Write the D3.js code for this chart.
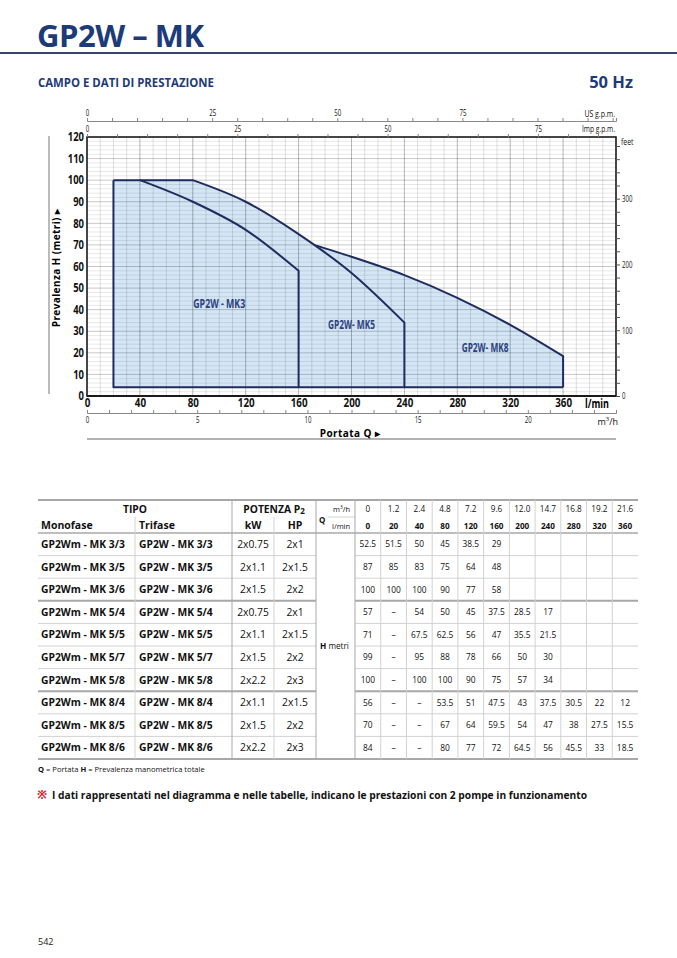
<!DOCTYPE html>
<html>
<head>
<meta charset="utf-8">
<script src="https://cdn.jsdelivr.net/npm/d3@7"></script>
<style>
  body { margin: 0; background: #fff; }
  text { font-family: "Open Sans", "Noto Sans", sans-serif; }
</style>
</head>
<body>
<div id="page"></div>
<script>
// ---- data -------------------------------------------------------------
// portata Q (colonne della tabella)
const flowLmin = [0, 20, 40, 80, 120, 160, 200, 240, 280, 320, 360];
const flowM3h = ["0", "1.2", "2.4", "4.8", "7.2", "9.6", "12.0", "14.7", "16.8", "19.2", "21.6"];

const monofase = ["GP2Wm - MK 3/3", "GP2Wm - MK 3/5", "GP2Wm - MK 3/6",
  "GP2Wm - MK 5/4", "GP2Wm - MK 5/5", "GP2Wm - MK 5/7", "GP2Wm - MK 5/8",
  "GP2Wm - MK 8/4", "GP2Wm - MK 8/5", "GP2Wm - MK 8/6"];
const trifase = ["GP2W - MK 3/3", "GP2W - MK 3/5", "GP2W - MK 3/6",
  "GP2W - MK 5/4", "GP2W - MK 5/5", "GP2W - MK 5/7", "GP2W - MK 5/8",
  "GP2W - MK 8/4", "GP2W - MK 8/5", "GP2W - MK 8/6"];
const powerKW = ["2x0.75", "2x1.1", "2x1.5", "2x0.75", "2x1.1", "2x1.5", "2x2.2", "2x1.1", "2x1.5", "2x2.2"];
const powerHP = ["2x1", "2x1.5", "2x2", "2x1", "2x1.5", "2x2", "2x3", "2x1.5", "2x2", "2x3"];

// prevalenza H in metri; null = "–", missing = empty cell
const headM = [
  [52.5, 51.5, 50, 45, 38.5, 29],
  [87, 85, 83, 75, 64, 48],
  [100, 100, 100, 90, 77, 58],
  [57, null, 54, 50, 45, 37.5, 28.5, 17],
  [71, null, 67.5, 62.5, 56, 47, 35.5, 21.5],
  [99, null, 95, 88, 78, 66, 50, 30],
  [100, null, 100, 100, 90, 75, 57, 34],
  [56, null, null, 53.5, 51, 47.5, 43, 37.5, 30.5, 22, 12],
  [70, null, null, 67, 64, 59.5, 54, 47, 38, 27.5, 15.5],
  [84, null, null, 80, 77, 72, 64.5, 56, 45.5, 33, 18.5]
];

// campi del diagramma: curva piu alta di ogni famiglia (riga della tabella)
const fieldNames = ["GP2W - MK3", "GP2W- MK5", "GP2W- MK8"];
const fieldRow = [2, 6, 9];
const fieldMinQ = 20;   // l/min, limite sinistro del campo
const fieldMinH = 4;    // m, limite inferiore del campo

const xTicks = [0, 40, 80, 120, 160, 200, 240, 280, 320, 360];
const yTicks = [0, 10, 20, 30, 40, 50, 60, 70, 80, 90, 100, 110, 120];
const gpmLabels = [0, 25, 50, 75];
const m3hLabels = [0, 5, 10, 15, 20];
const feetLabels = [0, 100, 200, 300];

// ---- layout -----------------------------------------------------------
const navy = "#1d3b78";
const lineNavy = "#1f2c5e";
const fillBlue = "#d4e6f5";

const svg = d3.select("#page").append("svg")
  .attr("width", 677).attr("height", 958);

// squeeze text to look like the condensed face of the original
function squeeze(sel, perChar) {
  sel.each(function () {
    const s = this.textContent;
    if (s.length) d3.select(this).attr("textLength", s.length * perChar)
      .attr("lengthAdjust", "spacingAndGlyphs");
  });
}

// page header
svg.append("text").attr("x", 37).attr("y", 47)
  .attr("font-size", 31).attr("font-weight", 700).attr("fill", navy)
  .attr("letter-spacing", -0.5)
  .text("GP2W – MK");
svg.append("line").attr("x1", 0).attr("x2", 677).attr("y1", 53).attr("y2", 53)
  .attr("stroke", "#34466f").attr("stroke-width", 2);
svg.append("text").attr("x", 38).attr("y", 87)
  .attr("font-size", 11.5).attr("font-weight", 700).attr("fill", navy)
  .attr("textLength", 176).attr("lengthAdjust", "spacingAndGlyphs")
  .text("CAMPO E DATI DI PRESTAZIONE");
svg.append("text").attr("x", 633).attr("y", 88).attr("text-anchor", "end")
  .attr("font-size", 16.5).attr("font-weight", 700).attr("fill", navy)
  .text("50 Hz");

// ---- chart ------------------------------------------------------------
const x = d3.scaleLinear().domain([0, 400]).range([87, 616]);
const y = d3.scaleLinear().domain([0, 120]).range([396, 137]);

function fieldPoints(i) {
  return flowLmin.map((q, j) => [q, headM[fieldRow[i]][j]])
    .filter(p => p[0] >= fieldMinQ && p[1] != null);
}
const curve = d3.line().x(d => x(d[0])).y(d => y(d[1])).curve(d3.curveMonotoneX);
// flat stretch at max head drawn straight, then the falling part as a curve
function topPath(pts) {
  let k = 0;
  while (k + 1 < pts.length && pts[k + 1][1] === pts[0][1]) k++;
  const last = pts[pts.length - 1];
  return `M${x(pts[0][0])},${y(pts[0][1])}` +
    curve(pts.slice(k)).replace(/^M/, "L") +
    `L${x(last[0])},${y(fieldMinH)}`;
}
function areaPath(pts) {
  return topPath(pts) + `L${x(pts[0][0])},${y(fieldMinH)}Z`;
}
const fields = fieldNames.map((n, i) => fieldPoints(i));

const defs = svg.append("defs");
const mask = defs.append("mask").attr("id", "outMK5")
  .attr("maskUnits", "userSpaceOnUse")
  .attr("x", 0).attr("y", 0).attr("width", 677).attr("height", 958);
mask.append("rect").attr("width", 677).attr("height", 958).attr("fill", "white");
mask.append("path").attr("d", areaPath(fields[1])).attr("fill", "black");

// fills
svg.append("g").selectAll("path").data(fields).join("path")
  .attr("d", d => areaPath(d)).attr("fill", fillBlue);

// grid
const grid = svg.append("g");
grid.selectAll(".vx").data(d3.range(10, 400, 10)).join("line")
  .attr("x1", d => x(d)).attr("x2", d => x(d)).attr("y1", y(0)).attr("y2", y(120))
  .attr("stroke", "#000").attr("stroke-opacity", d => d % 40 === 0 ? 0.28 : 0.12);
grid.selectAll(".hy").data(d3.range(2, 120, 2)).join("line")
  .attr("x1", x(0)).attr("x2", x(400)).attr("y1", d => y(d)).attr("y2", d => y(d))
  .attr("stroke", "#000").attr("stroke-opacity", d => d % 10 === 0 ? 0.22 : 0.09);

svg.append("rect").attr("x", x(0)).attr("y", y(120))
  .attr("width", x(400) - x(0)).attr("height", y(0) - y(120))
  .attr("fill", "none").attr("stroke", "#1a1a1a").attr("stroke-width", 1.6);
svg.append("line").attr("x1", x(0)).attr("x2", x(400)).attr("y1", y(0)).attr("y2", y(0))
  .attr("stroke", "#1a1a1a").attr("stroke-width", 2.2);

// curve strokes (MK8 hidden where it runs inside the MK5 field)
const strokes = svg.append("g").attr("fill", "none")
  .attr("stroke", lineNavy).attr("stroke-width", 2).attr("stroke-linejoin", "round");
strokes.append("path").attr("d", topPath(fields[2])).attr("mask", "url(#outMK5)");
strokes.append("path").attr("d", topPath(fields[1]));
strokes.append("path").attr("d", topPath(fields[0]));
// outer left edge and bottom
const lastQ = fields[2][fields[2].length - 1][0];
strokes.append("path").attr("d", d3.line()([
  [x(fieldMinQ), y(fields[0][0][1])], [x(fieldMinQ), y(fieldMinH)], [x(lastQ), y(fieldMinH)]
]));

// field labels (position in data units)
const labelAt = [[100, 41], [200, 31], [301, 20.5]];
svg.append("g").selectAll("text").data(fieldNames).join("text")
  .attr("x", (d, i) => x(labelAt[i][0])).attr("y", (d, i) => y(labelAt[i][1]))
  .attr("text-anchor", "middle").attr("font-size", 12).attr("font-weight", 700)
  .attr("fill", "#2b3f80").text(d => d)
  .call(s => squeeze(s, 5.2));

// axes
function styleAxis(g, size, weight, perChar) {
  g.selectAll("text").attr("font-size", size).attr("font-weight", weight).attr("fill", "#111")
    .call(s => squeeze(s, perChar));
}
svg.append("g").attr("transform", `translate(${x(0)},0)`)
  .call(d3.axisLeft(y).tickValues(yTicks).tickSize(0).tickPadding(3))
  .call(g => g.select(".domain").remove())
  .call(g => styleAxis(g, 11.5, 700, 5.4));
svg.append("g").attr("transform", `translate(0,${y(0)})`)
  .call(d3.axisBottom(x).tickValues(xTicks).tickSize(0).tickPadding(3))
  .call(g => g.select(".domain").remove())
  .call(g => styleAxis(g, 11.5, 700, 5.6));
svg.append("text").attr("x", 597).attr("y", 407.5)
  .attr("text-anchor", "middle").attr("font-size", 11.5).attr("font-weight", 700)
  .text("l/min").call(s => squeeze(s, 4.8));

// US g.p.m. and Imp g.p.m. on top
const usGpm = d3.scaleLinear().domain([0, 400 / 3.785]).range(x.range());
const impGpm = d3.scaleLinear().domain([0, 400 / 4.546]).range(x.range());
svg.append("g").attr("transform", "translate(0,121)")
  .call(d3.axisTop(usGpm).tickValues(d3.range(0, 106, 5)).tickSize(3).tickPadding(2)
    .tickFormat(d => gpmLabels.includes(d) ? d : ""))
  .call(g => g.select(".domain").attr("stroke", "#888"))
  .call(g => g.selectAll(".tick line").attr("stroke", "#888"))
  .call(g => styleAxis(g, 9, 400, 3.5));
svg.append("g").attr("transform", `translate(0,${y(120)})`)
  .call(d3.axisTop(impGpm).tickValues(d3.range(0, 88, 5)).tickSize(3).tickPadding(2)
    .tickFormat(d => gpmLabels.includes(d) ? d : ""))
  .call(g => g.select(".domain").remove())
  .call(g => g.selectAll(".tick line").attr("stroke", "#888"))
  .call(g => styleAxis(g, 9, 400, 3.5));
svg.append("text").attr("x", 615).attr("y", 117)
  .attr("text-anchor", "end").attr("font-size", 9).attr("fill", "#111").text("US g.p.m.")
  .call(s => squeeze(s, 3.4));
svg.append("text").attr("x", 615).attr("y", 132)
  .attr("text-anchor", "end").attr("font-size", 9).attr("fill", "#111").text("Imp g.p.m.")
  .call(s => squeeze(s, 3.3));

// feet on the right
const feet = d3.scaleLinear().domain([0, 120 * 3.28084]).range(y.range());
svg.append("g").attr("transform", `translate(${x(400)},0)`)
  .call(d3.axisRight(feet).tickValues(d3.range(0, 381, 20)).tickSize(4).tickPadding(2)
    .tickFormat(d => feetLabels.includes(d) ? d : ""))
  .call(g => g.select(".domain").remove())
  .call(g => g.selectAll(".tick line").attr("stroke", "#555"))
  .call(g => styleAxis(g, 9, 400, 3.5));
svg.append("text").attr("x", 621).attr("y", 145)
  .attr("font-size", 9).attr("fill", "#111").text("feet").call(s => squeeze(s, 3.1));

// m3/h below
const m3h = d3.scaleLinear().domain([0, 24]).range(x.range());
svg.append("g").attr("transform", "translate(0,413)")
  .call(d3.axisBottom(m3h).tickValues(d3.range(0, 25, 1)).tickSize(-3).tickPadding(4)
    .tickFormat(d => m3hLabels.includes(d) ? d : ""))
  .call(g => g.select(".domain").attr("stroke", "#888"))
  .call(g => g.selectAll(".tick line").attr("stroke", "#888"))
  .call(g => styleAxis(g, 9, 400, 3.5));
svg.append("text").attr("x", 618).attr("y", 424.5)
  .attr("text-anchor", "end").attr("font-size", 9).attr("fill", "#111")
  .html('m<tspan dy="-3.5" font-size="6">3</tspan><tspan dy="3.5">/h</tspan>');

svg.append("text").attr("x", 350).attr("y", 436.5).attr("text-anchor", "middle")
  .attr("font-size", 10).attr("font-weight", 700).attr("letter-spacing", 0.4)
  .text("Portata  Q  ▸");
svg.append("line").attr("x1", x(0)).attr("x2", x(400)).attr("y1", 439).attr("y2", 439)
  .attr("stroke", "#666").attr("stroke-width", 1.2);
svg.append("line").attr("x1", 49).attr("x2", 49).attr("y1", 136).attr("y2", 394)
  .attr("stroke", "#777").attr("stroke-width", 1);
svg.append("text").attr("transform", "translate(60,268) rotate(-90)")
  .attr("text-anchor", "middle").attr("font-size", 10).attr("font-weight", 700)
  .attr("letter-spacing", 0.4).text("Prevalenza  H  (metri)  ▸");

// ---- table ------------------------------------------------------------
const tL = 38, tR = 638, tTop = 500, hMid = 517, hBot = 533, tBot = 759;
const colTipo = [38, 135, 232];
const colPow = [232, 274, 316];
const colQ = [316, 355];
const valX = d3.scaleBand().domain(d3.range(flowLmin.length)).range([355, tR]);
const rowY = d3.scaleBand().domain(d3.range(monofase.length)).range([hBot, tBot]);
const groupStart = [3, 7];

const tbl = svg.append("g");
const thin = "#d2d2d2", mid = "#a8a8a8";

// horizontal lines
rowY.domain().slice(1).forEach(i => {
  const strong = groupStart.includes(i);
  [[tL, colQ[0]], [colQ[1], tR]].forEach(seg => {
    tbl.append("line").attr("x1", seg[0]).attr("x2", seg[1])
      .attr("y1", rowY(i)).attr("y2", rowY(i))
      .attr("stroke", strong ? mid : thin).attr("stroke-width", strong ? 2 : 1);
  });
});
[tTop, hBot, tBot].forEach((yy, k) => {
  tbl.append("line").attr("x1", tL).attr("x2", tR).attr("y1", yy).attr("y2", yy)
    .attr("stroke", mid).attr("stroke-width", k === 1 ? 1.5 : 2.2);
});
tbl.append("line").attr("x1", 328).attr("x2", colQ[1]).attr("y1", hMid).attr("y2", hMid)
  .attr("stroke", thin);

// vertical lines
[[colTipo[1], hMid, thin], [colPow[1], hMid, thin],
 [colTipo[2], tTop, mid], [colQ[0], tTop, mid], [colQ[1], tTop, mid]]
  .forEach(v => tbl.append("line").attr("x1", v[0]).attr("x2", v[0])
    .attr("y1", v[1]).attr("y2", tBot).attr("stroke", v[2]));
valX.domain().slice(1).forEach(j => tbl.append("line")
  .attr("x1", valX(j)).attr("x2", valX(j)).attr("y1", tTop).attr("y2", tBot)
  .attr("stroke", thin));

// header texts
function t(xx, yy, s, size, weight, anchor) {
  return tbl.append("text").attr("x", xx).attr("y", yy).attr("font-size", size)
    .attr("font-weight", weight || 400).attr("text-anchor", anchor || "start")
    .attr("fill", "#111").text(s);
}
t((colTipo[0] + colTipo[2]) / 2, 513, "TIPO", 10.3, 700, "middle");
t(41, 529, "Monofase", 10.5, 700);
t(139, 529, "Trifase", 10.5, 700);
t((colPow[0] + colPow[2]) / 2, 513, "POTENZA P", 10.3, 700, "middle")
  .append("tspan").attr("font-size", 8).attr("dy", 1).text("2");
t((colPow[0] + colPow[1]) / 2, 529, "kW", 10.5, 700, "middle");
t((colPow[1] + colPow[2]) / 2, 529, "HP", 10.5, 700, "middle");
t(319, 523, "Q", 8, 700);
t(333, 512, "m", 7.5).append("tspan").attr("font-size", 5).attr("dy", -3).text("3")
  .select(function () { return this.parentNode; })
  .append("tspan").attr("dy", 3).text("/h");
t(332, 529, "l/min", 7.5);
flowM3h.forEach((s, j) => t(valX(j) + valX.bandwidth() / 2, 512, s, 8.2, 400, "middle"));
flowLmin.forEach((q, j) => t(valX(j) + valX.bandwidth() / 2, 529, q, 8.2, 700, "middle"));

// body
monofase.forEach((m, i) => {
  const cy = rowY(i) + rowY.bandwidth() / 2 + 3.7;
  t(41, cy, m, 10.3, 700);
  t(139, cy, trifase[i], 10.3, 700);
  t((colPow[0] + colPow[1]) / 2, cy, powerKW[i], 10.3, 400, "middle");
  t((colPow[1] + colPow[2]) / 2, cy, powerHP[i], 10.3, 400, "middle");
  headM[i].forEach((h, j) => {
    t(valX(j) + valX.bandwidth() / 2, cy - 0.6, h == null ? "–" : h, 8.4, 400, "middle");
  });
});
const hm = t(320, (hBot + tBot) / 2 + 3, "H", 8.2, 700);
hm.append("tspan").attr("font-weight", 400).text(" metri");

// notes
const n1 = svg.append("text").attr("x", 38).attr("y", 772).attr("font-size", 7.6).attr("fill", "#111");
n1.append("tspan").attr("font-weight", 700).text("Q");
n1.append("tspan").text(" = Portata   ");
n1.append("tspan").attr("font-weight", 700).text("H");
n1.append("tspan").text(" = Prevalenza manometrica totale");

svg.append("text").attr("x", 37).attr("y", 799).attr("font-size", 12)
  .attr("font-weight", 700).attr("fill", "#d7262e").text("※");
svg.append("text").attr("x", 52).attr("y", 799).attr("font-size", 10.5)
  .attr("font-weight", 700).attr("fill", "#111")
  .attr("textLength", 535).attr("lengthAdjust", "spacingAndGlyphs")
  .text("I dati rappresentati nel diagramma e nelle tabelle, indicano le prestazioni con 2 pompe in funzionamento");

svg.append("text").attr("x", 38).attr("y", 945).attr("font-size", 9).attr("fill", "#222").text("542");
</script>
</body>
</html>
